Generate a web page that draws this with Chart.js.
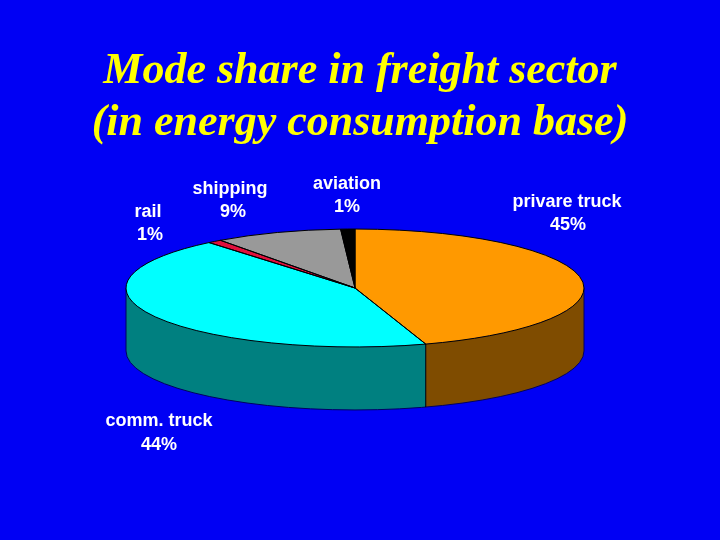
<!DOCTYPE html>
<html>
<head>
<meta charset="utf-8">
<script src="https://cdn.jsdelivr.net/npm/chart.js@4"></script>
<style>
  html, body { margin: 0; padding: 0; background: #0000f4; }
  canvas { display: block; }
</style>
</head>
<body>
<canvas id="pieChart" width="720" height="540"></canvas>
<script>
const categories = ['privare truck', 'comm. truck', 'rail', 'shipping', 'aviation'];
const shares = [45, 44, 1, 9, 1];
const topColors = ['#ff9900', '#00ffff', '#e0103c', '#999999', '#000000'];
const sideColors = ['#7f4c00', '#008080', '#700a1e', '#4c4c4c', '#000000'];

// where the text of each label sits on the slide
const labelSpots = [
    { name: [567, 202], value: [568, 225] },
    { name: [159, 421], value: [159, 445] },
    { name: [148, 212], value: [150, 235] },
    { name: [230, 189], value: [233, 212] },
    { name: [347, 184], value: [347, 207] }
];

const centerX = 355;
const centerY = 288;
const squash = 0.2575;
const depth = 63;

function pieArcs(chart) {
    return chart.getDatasetMeta(0).data;
}

function topPath(ctx, arc) {
    const ry = arc.outerRadius * squash;
    ctx.beginPath();
    ctx.moveTo(centerX, centerY);
    ctx.ellipse(centerX, centerY, arc.outerRadius, ry, 0, arc.startAngle, arc.endAngle);
    ctx.closePath();
}

const pie3d = {
    id: 'pie3d',
    beforeDatasetsDraw(chart) {
        const ctx = chart.ctx;
        const arcs = pieArcs(chart);
        const r = arcs[0].outerRadius;
        const ry = r * squash;
        // wall of the pie: only the front half of the rim shows
        arcs.forEach((arc, i) => {
            const from = Math.max(arc.startAngle, 0);
            const to = Math.min(arc.endAngle, Math.PI);
            if (to <= from) return;
            ctx.beginPath();
            ctx.ellipse(centerX, centerY, r, ry, 0, from, to);
            ctx.ellipse(centerX, centerY + depth, r, ry, 0, to, from, true);
            ctx.closePath();
            ctx.fillStyle = sideColors[i];
            ctx.fill();
        });
        // outer edge of the wall is a faint dark line against the blue
        ctx.strokeStyle = '#000060';
        ctx.lineWidth = 1;
        ctx.beginPath();
        ctx.moveTo(centerX + r, centerY);
        ctx.ellipse(centerX, centerY + depth, r, ry, 0, 0, Math.PI);
        ctx.lineTo(centerX - r, centerY);
        ctx.stroke();
        // seams between slices on the wall
        ctx.strokeStyle = '#000000';
        arcs.forEach(arc => {
            if (arc.startAngle <= 0 || arc.startAngle >= Math.PI) return;
            const x = centerX + r * Math.cos(arc.startAngle);
            const y = centerY + ry * Math.sin(arc.startAngle);
            ctx.beginPath();
            ctx.moveTo(x, y);
            ctx.lineTo(x, y + depth);
            ctx.stroke();
        });
    },
    beforeDatasetDraw(chart) {
        const ctx = chart.ctx;
        const arc = pieArcs(chart)[0];
        ctx.save();
        ctx.translate(centerX, centerY);
        ctx.scale(1, squash);
        ctx.translate(-arc.x, -arc.y);
    },
    afterDatasetDraw(chart) {
        chart.ctx.restore();
    },
    afterDatasetsDraw(chart) {
        const ctx = chart.ctx;
        ctx.strokeStyle = '#000000';
        ctx.lineWidth = 1;
        pieArcs(chart).forEach(arc => {
            topPath(ctx, arc);
            ctx.stroke();
        });
        // labels
        ctx.textAlign = 'center';
        ctx.textBaseline = 'middle';
        ctx.fillStyle = '#ffffff';
        ctx.font = 'bold 18px "Liberation Sans"';
        categories.forEach((name, i) => {
            const spot = labelSpots[i];
            ctx.fillText(name, spot.name[0], spot.name[1]);
            ctx.fillText(shares[i] + '%', spot.value[0], spot.value[1]);
        });
    }
};

new Chart(document.getElementById('pieChart'), {
    type: 'pie',
    data: {
        labels: categories,
        datasets: [{
            data: shares,
            backgroundColor: topColors,
            borderWidth: 0,
            clip: false
        }]
    },
    options: {
        responsive: false,
        animation: false,
        radius: 229,
        plugins: {
            legend: { display: false },
            tooltip: { enabled: false },
            title: {
                display: true,
                text: ['Mode share in freight sector', '(in energy consumption base)'],
                color: '#ffff00',
                font: { family: '"Liberation Serif"', size: 44, weight: 'bold', style: 'italic', lineHeight: 1.18 },
                padding: { top: 46, bottom: 10 }
            }
        }
    },
    plugins: [pie3d]
});
</script>
</body>
</html>
